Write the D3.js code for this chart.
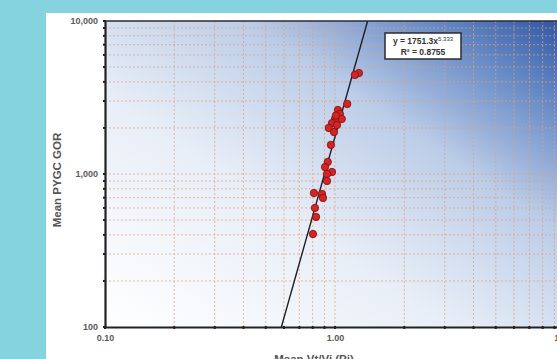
<!DOCTYPE html>
<html>
<head>
<meta charset="utf-8">
<script src="https://cdn.jsdelivr.net/npm/d3@7"></script>
<style>
  html, body { margin: 0; padding: 0; background: #86d3e0; overflow: hidden; }
  svg { display: block; }
</style>
</head>
<body>
<div id="chart"></div>
<script>
// chart data
const meanRatio = [1.27, 1.22, 1.13, 1.03, 1.05, 1.07, 1.00, 0.97, 1.02, 0.94, 0.99, 1.01, 0.96, 0.93, 0.905, 0.97, 0.923, 0.923, 0.81, 0.878, 0.887, 0.818, 0.827, 0.802];
const meanGor   = [4570, 4440, 2870, 2620, 2470, 2290, 2290, 2150, 2090, 2000, 1880, 2410, 1550, 1200, 1110, 1030, 1000, 900, 751, 740, 697, 600, 524, 405];

const xLabels = [0.1, 1, 10];
const yLabels = [100, 1000, 10000];

// power trendline shown in the box
const trendA = 1751.3;
const trendB = 5.333;
const trendR2 = 0.8755;

const W = 557, H = 359;
const plot = {left: 105, right: 565, top: 21, bottom: 327};

const svg = d3.select('#chart').append('svg')
    .attr('width', W)
    .attr('height', H);

// white panel on cyan page
svg.append('rect')
    .attr('x', 46).attr('y', 13)
    .attr('width', W - 46).attr('height', H - 13)
    .attr('fill', '#ffffff');

const x = d3.scaleLog().domain([0.1, 10]).range([plot.left, plot.right]);
const y = d3.scaleLog().domain([100, 10000]).range([plot.bottom, plot.top]);

// gradient background of the plot area
const defs = svg.append('defs');
const grad = defs.append('linearGradient')
    .attr('id', 'bg')
    .attr('x1', 0).attr('y1', 1)
    .attr('x2', 1).attr('y2', 0);
grad.append('stop').attr('offset', 0).attr('stop-color', '#ffffff');
grad.append('stop').attr('offset', 0.38).attr('stop-color', '#e8eef7');
grad.append('stop').attr('offset', 0.65).attr('stop-color', '#bccde8');
grad.append('stop').attr('offset', 0.87).attr('stop-color', '#5f84c2');
grad.append('stop').attr('offset', 1).attr('stop-color', '#2b55a3');

defs.append('clipPath').attr('id', 'plotClip')
  .append('rect')
    .attr('x', plot.left).attr('y', plot.top)
    .attr('width', plot.right - plot.left).attr('height', plot.bottom - plot.top);

svg.append('rect')
    .attr('x', plot.left).attr('y', plot.top)
    .attr('width', plot.right - plot.left).attr('height', plot.bottom - plot.top)
    .attr('fill', 'url(#bg)');

// dashed grid on every minor tick
const gridColour = '#e2a07c';
const grid = svg.append('g').style('opacity', 0.8);
grid.selectAll('line.gx')
    .data(x.ticks().filter(d => d > 0.1 && d < 10))
    .enter()
    .append('line')
        .attr('class', 'gx')
        .attr('x1', d => x(d)).attr('x2', d => x(d))
        .attr('y1', plot.top).attr('y2', plot.bottom)
        .style('stroke', gridColour)
        .style('stroke-width', 0.9)
        .style('stroke-dasharray', '2,2');
grid.selectAll('line.gy')
    .data(y.ticks().filter(d => d > 100 && d < 10000))
    .enter()
    .append('line')
        .attr('class', 'gy')
        .attr('x1', plot.left).attr('x2', plot.right)
        .attr('y1', d => y(d)).attr('y2', d => y(d))
        .style('stroke', gridColour)
        .style('stroke-width', 0.9)
        .style('stroke-dasharray', '2,2');

// trendline y = a x^b
const xs = [0.1, 10];
const line = d3.line()
    .x(d => x(d))
    .y(d => y(trendA * Math.pow(d, trendB)));
svg.append('path')
    .datum(xs)
    .attr('clip-path', 'url(#plotClip)')
    .attr('d', line)
    .style('fill', 'none')
    .style('stroke', '#1e1e24')
    .style('stroke-width', 1.4);

// data points
svg.append('g').selectAll('circle')
    .data(meanRatio.map((v, i) => ({x: v, y: meanGor[i]})))
    .enter()
    .append('circle')
        .attr('cx', d => x(d.x))
        .attr('cy', d => y(d.y))
        .attr('r', 3.7)
        .style('fill', '#d42424')
        .style('stroke', '#7a1010')
        .style('stroke-width', 0.8);

// frame: thick left and bottom axes, thinner top edge
svg.append('line')
    .attr('x1', plot.left).attr('x2', plot.right)
    .attr('y1', plot.top).attr('y2', plot.top)
    .style('stroke', '#2a2a30').style('stroke-width', 1.5);

const xAxis = d3.axisBottom(x)
    .tickValues(x.ticks())
    .tickSize(0)
    .tickFormat(d => xLabels.includes(d) ? d3.format('.2f')(d) : '');
const yAxis = d3.axisLeft(y)
    .tickValues(y.ticks())
    .tickSize(0)
    .tickFormat(d => yLabels.includes(d) ? d3.format(',')(d) : '');

const gx = svg.append('g')
    .attr('transform', `translate(0, ${plot.bottom})`)
    .call(xAxis);
const gy = svg.append('g')
    .attr('transform', `translate(${plot.left}, 0)`)
    .call(yAxis);

[gx, gy].forEach(g => {
    g.select('.domain').style('stroke', '#222').style('stroke-width', 2.2);
    g.selectAll('text')
        .style('font-family', 'Arial, "Liberation Sans", sans-serif')
        .style('font-weight', 'bold')
        .style('font-size', '9px')
        .style('fill', '#5a5a5a');
});
gx.selectAll('text').attr('dy', '0').attr('y', 14);
gy.selectAll('text').attr('x', -7).attr('dy', '0.32em');

// small tick dots on the axes
svg.append('g').selectAll('rect')
    .data(x.ticks())
    .enter()
    .append('rect')
        .attr('x', d => x(d) - 1).attr('y', plot.bottom - 1)
        .attr('width', 2).attr('height', 3)
        .style('fill', '#222');
svg.append('g').selectAll('rect')
    .data(y.ticks())
    .enter()
    .append('rect')
        .attr('x', plot.left - 2).attr('y', d => y(d) - 1)
        .attr('width', 3).attr('height', 2)
        .style('fill', '#222');

// axis titles
svg.append('text')
    .attr('transform', `translate(61, 180) rotate(-90)`)
    .attr('text-anchor', 'middle')
    .style('font-family', 'Arial, "Liberation Sans", sans-serif')
    .style('font-weight', 'bold')
    .style('font-size', '11.5px')
    .style('fill', '#555')
    .text('Mean PYGC GOR');

// x title sits partly below the bottom edge, as in the picture
svg.append('text')
    .attr('x', 314).attr('y', 363)
    .attr('text-anchor', 'middle')
    .style('font-family', 'Arial, "Liberation Sans", sans-serif')
    .style('font-weight', 'bold')
    .style('font-size', '11.5px')
    .style('fill', '#555')
    .text('Mean Vt/Vi (Pi)');

// equation box
const box = svg.append('g').attr('transform', 'translate(385, 33)');
box.append('rect')
    .attr('width', 76).attr('height', 26)
    .style('fill', '#ffffff')
    .style('stroke', '#2a2a30')
    .style('stroke-width', 1.5);
const eq = box.append('text')
    .attr('x', 38).attr('y', 11)
    .attr('text-anchor', 'middle')
    .style('font-family', 'Arial, "Liberation Sans", sans-serif')
    .style('font-weight', 'bold')
    .style('font-size', '8.5px')
    .style('fill', '#333');
eq.append('tspan').text('y = ' + trendA + 'x');
eq.append('tspan')
    .attr('dy', -3)
    .style('font-size', '6px')
    .style('font-weight', 'normal')
    .text(trendB);
box.append('text')
    .attr('x', 38).attr('y', 22)
    .attr('text-anchor', 'middle')
    .style('font-family', 'Arial, "Liberation Sans", sans-serif')
    .style('font-weight', 'bold')
    .style('font-size', '8.5px')
    .style('fill', '#333')
    .text('R\u00b2 = ' + trendR2);
</script>
</body>
</html>
